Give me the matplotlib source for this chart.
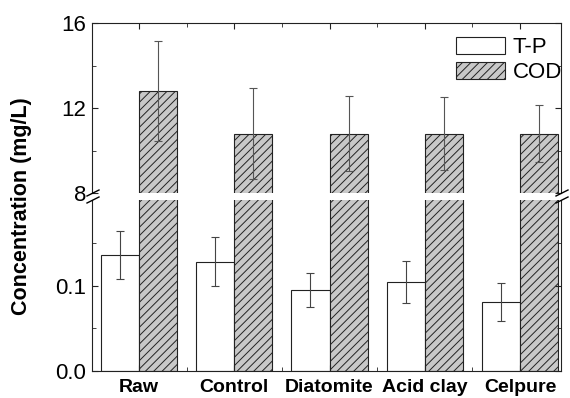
import numpy as np
import matplotlib
matplotlib.use("Agg")
import matplotlib.pyplot as plt

plt.rcParams['font.family'] = ['Liberation Sans', 'DejaVu Sans']
plt.rcParams['hatch.linewidth'] = 0.7
plt.rcParams['hatch.color'] = '#404040'

# data
categories = ['Raw', 'Control', 'Diatomite', 'Acid clay', 'Celpure']
tp_mean = [0.136, 0.128, 0.095, 0.104, 0.081]
tp_err = [0.028, 0.029, 0.020, 0.025, 0.022]
cod_mean = [12.8, 10.8, 10.8, 10.8, 10.8]
cod_err = [2.37, 2.16, 1.77, 1.72, 1.35]

x = np.arange(len(categories))
w = 0.4

fig = plt.figure(figsize=(5.7, 3.98), dpi=100)
# axes placed in pixel fractions of the 570x398 canvas
ax_top = fig.add_axes([92/570, 1-193/398, (561-92)/570, 170/398])
ax_bot = fig.add_axes([92/570, 1-371/398, (561-92)/570, 171/398])

edge = '#222222'
for ax in (ax_top, ax_bot):
    ax.bar(x - w/2, tp_mean, w, color='white', edgecolor=edge, linewidth=0.8, label='T-P')
    ax.bar(x + w/2, cod_mean, w, color='#c8c8c8', edgecolor=edge, linewidth=0.8,
           hatch='////', label='COD')
    ax.errorbar(x - w/2, tp_mean, yerr=tp_err, fmt='none', ecolor='#444444',
                elinewidth=0.8, capsize=3, capthick=0.8)
    ax.errorbar(x + w/2, cod_mean, yerr=cod_err, fmt='none', ecolor='#555555',
                elinewidth=0.8, capsize=3, capthick=0.8)
    ax.set_xlim(-0.493, 4.43)
    for s in ax.spines.values():
        s.set_linewidth(0.8)
        s.set_color(edge)
    ax.tick_params(axis='both', which='both', direction='in', right=True,
                   labelsize=16, pad=4, color=edge)
    ax.tick_params(which='major', length=4)
    ax.tick_params(which='minor', length=3)
    ax.set_xticks(x)
    ax.set_xticks(x[:-1] + 0.5, minor=True)

ax_top.set_ylim(8, 16)
ax_top.set_yticks([8, 12, 16])
ax_top.set_yticks([10, 14], minor=True)
ax_top.spines['bottom'].set_visible(False)
ax_top.tick_params(axis='x', which='both', bottom=False, top=True, labelbottom=False)

ax_bot.set_ylim(0, 0.2)
ax_bot.set_yticks([0.0, 0.1])
ax_bot.set_yticklabels(['0.0', '0.1'])
ax_bot.set_yticks([0.05, 0.15], minor=True)
ax_bot.spines['top'].set_visible(False)
ax_bot.tick_params(axis='x', which='both', top=False, bottom=True)
ax_bot.set_xticklabels(categories, fontsize=14, fontweight='bold')
ax_bot.tick_params(axis='x', pad=6)

# axis break marks
for xa in (92, 561):
    for yb in (193, 200):
        fig.add_artist(plt.Line2D([(xa-5)/570, (xa+7)/570],
                                  [1-(yb+3)/398, 1-(yb-3)/398],
                                  color='black', linewidth=1.0))

leg = ax_top.legend(loc='upper right', bbox_to_anchor=(1.002, 0.92), frameon=False,
                    fontsize=16, handlelength=2.2, handleheight=0.8,
                    handletextpad=0.35, labelspacing=0.2, borderpad=0,
                    borderaxespad=0)

fig.text(22/570, 1-206/398, 'Concentration (mg/L)', rotation=90, ha='center',
         va='center', fontsize=15.5, fontweight='bold')

plt.savefig('out.png', dpi=100)
